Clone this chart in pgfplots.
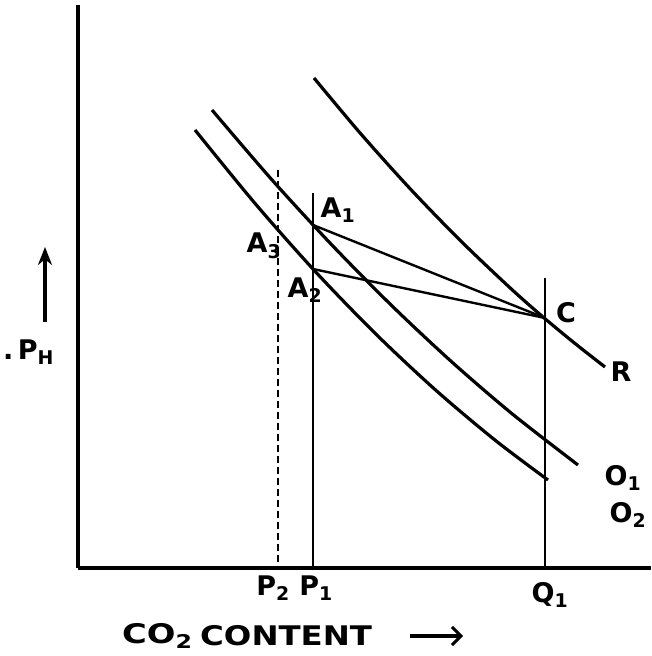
\documentclass[border=0pt]{standalone}
\usepackage{fontspec}
\setmainfont{DejaVu Sans}
\usepackage{pgfplots}
\pgfplotsset{compat=1.18}
\usetikzlibrary{arrows.meta}
\newcommand{\lab}{\bfseries\fontsize{27}{30}\selectfont}
\begin{document}
\begin{tikzpicture}[x=1pt,y=1pt]
\useasboundingbox (0,0) rectangle (651,656);
\begin{axis}[
    at={(78pt,88pt)}, anchor=origin,
    scale only axis, width=573pt, height=563pt,
    xmin=78, xmax=651, ymin=88, ymax=651,
    axis lines=left, axis line style={-, line width=3.4pt},
    ticks=none, clip=false,
]
% curve R
\addplot[black, line width=3.2pt, smooth] coordinates {
  (314,578) (360,523.1) (410,467.4) (460,415.8) (510,368.2) (543,339) (575,312.5) (605,289)};
% curve O1
\addplot[black, line width=3.2pt, smooth] coordinates {
  (212,546) (272,476.1) (332,410.9) (392,350.1) (452,293.9) (512,242.3) (578,191)};
% curve O2
\addplot[black, line width=3.2pt, smooth] coordinates {
  (195,526) (255,452.6) (315,384.8) (375,322.8) (435,266.5) (495,215.9) (548,176)};
% verticals
\addplot[black, line width=2.2pt] coordinates {(313,463) (313,88)};
\addplot[black, line width=2.2pt, dash pattern=on 7pt off 4pt] coordinates {(278,486) (278,88)};
\addplot[black, line width=2.2pt] coordinates {(545,378) (545,88)};
% chords to C
\addplot[black, line width=2.4pt] coordinates {(313,431) (545,338)};
\addplot[black, line width=2.4pt] coordinates {(313,387) (545,338)};
% labels
\node[font=\lab] at (axis cs:338,446) {A\textsubscript{1}};
\node[font=\lab] at (axis cs:305,366) {A\textsubscript{2}};
\node[font=\lab] at (axis cs:264,410) {A\textsubscript{3}};
\node[font=\lab] at (axis cs:566,343) {C};
\node[font=\lab] at (axis cs:621,284) {R};
\node[font=\lab] at (axis cs:623,178) {O\textsubscript{1}};
\node[font=\lab] at (axis cs:628,141) {O\textsubscript{2}};
\node[font=\lab] at (axis cs:273,68) {P\textsubscript{2}};
\node[font=\lab] at (axis cs:316,68) {P\textsubscript{1}};
\node[font=\lab] at (axis cs:550,61) {Q\textsubscript{1}};
\node[font=\lab, anchor=west, inner sep=0pt] at (axis cs:122,20) {\scalebox{1.25}[1]{CO\textsubscript{2}}};
\node[font=\lab, anchor=west, inner sep=0pt] at (axis cs:200,20) {\scalebox{1.2}[1]{CONTENT}};
\draw[line width=3.5pt, -{Straight Barb[length=9pt,width=18pt,line width=3pt]}] (axis cs:410,20) -- (axis cs:463,20);
\node[font=\lab, anchor=west, inner sep=0pt] at (axis cs:3,304) {.\,P\textsubscript{H}};
\draw[line width=3.5pt, -{Stealth[length=18pt,width=14pt]}] (axis cs:45,334) -- (axis cs:45,409);
\end{axis}
\end{tikzpicture}
\end{document}
